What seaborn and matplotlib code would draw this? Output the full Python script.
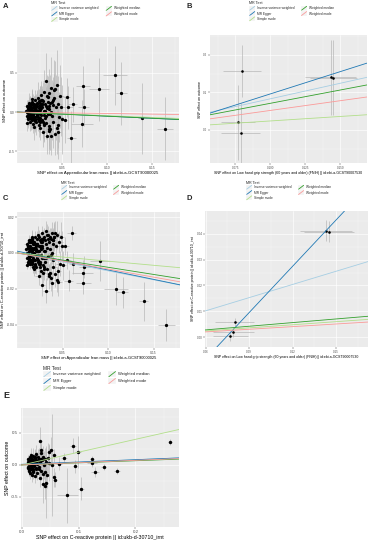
import numpy as np
import pandas as pd
import seaborn as sns
import matplotlib
matplotlib.use("Agg")
import matplotlib.pyplot as plt
from matplotlib.lines import Line2D
from matplotlib.patches import Rectangle
from matplotlib.legend_handler import HandlerBase
from matplotlib.ticker import AutoMinorLocator

# ---------------- data ----------------
methods = ["Inverse variance weighted", "MR Egger", "Simple mode",
           "Weighted median", "Weighted mode"]
method_colors = ["#a6cee3", "#1f78b4", "#b2df8a", "#33a02c", "#fb9a99"]

# exposure: Appendicular lean mass (panels A and C share SNPs)
lean_bx = [
    0.010, 0.011, 0.011, 0.012, 0.012, 0.012, 0.013, 0.013, 0.013, 0.014, 0.014, 0.014, 0.015, 0.015, 0.015, 0.016,
    0.016, 0.016, 0.017, 0.017, 0.017, 0.018, 0.018, 0.018, 0.019, 0.019, 0.019, 0.020, 0.020, 0.020, 0.021, 0.021,
    0.021, 0.022, 0.022, 0.023, 0.023, 0.023, 0.024, 0.024, 0.025, 0.025, 0.026, 0.026, 0.026, 0.027, 0.027, 0.028,
    0.028, 0.029, 0.029, 0.030, 0.030, 0.031, 0.031, 0.032, 0.032, 0.033, 0.033, 0.034, 0.034, 0.035, 0.035, 0.036,
    0.036, 0.037, 0.037, 0.038, 0.038, 0.039, 0.040, 0.040, 0.041, 0.042, 0.043, 0.044, 0.045, 0.046, 0.047, 0.048,
    0.011, 0.013, 0.015, 0.017, 0.019, 0.022, 0.024, 0.027, 0.030, 0.033, 0.036, 0.039, 0.042, 0.044, 0.049, 0.050,
    0.012, 0.014, 0.016, 0.018, 0.020, 0.021, 0.023, 0.025, 0.026, 0.028, 0.029, 0.031, 0.032, 0.034, 0.037, 0.040,
    0.013, 0.015, 0.017, 0.019, 0.020, 0.022, 0.024, 0.025, 0.027, 0.028, 0.030, 0.032, 0.035, 0.038, 0.041, 0.045,
    0.053, 0.055, 0.057, 0.060, 0.062, 0.072, 0.073, 0.074, 0.091, 0.109, 0.116, 0.139, 0.164,
    0.011, 0.012, 0.013, 0.014, 0.015, 0.016, 0.017, 0.018, 0.019, 0.020, 0.021, 0.022, 0.023, 0.024, 0.025, 0.026,
    0.012, 0.013, 0.014, 0.015, 0.016, 0.017, 0.018, 0.019, 0.020, 0.021, 0.022, 0.023, 0.024, 0.026, 0.028, 0.030]
lean_sex = [
    0.002, 0.002, 0.003, 0.002, 0.002, 0.003, 0.002, 0.002, 0.003, 0.002, 0.003, 0.002, 0.002, 0.003, 0.002, 0.003,
    0.002, 0.003, 0.002, 0.003, 0.002, 0.003, 0.002, 0.003, 0.003, 0.002, 0.003, 0.002, 0.003, 0.003, 0.002, 0.003,
    0.003, 0.002, 0.003, 0.003, 0.002, 0.003, 0.003, 0.004, 0.003, 0.002, 0.003, 0.003, 0.004, 0.003, 0.002, 0.003,
    0.003, 0.004, 0.003, 0.003, 0.004, 0.003, 0.004, 0.003, 0.003, 0.004, 0.003, 0.004, 0.003, 0.004, 0.003, 0.004,
    0.004, 0.003, 0.004, 0.003, 0.004, 0.004, 0.003, 0.004, 0.004, 0.003, 0.004, 0.004, 0.003, 0.004, 0.004, 0.004,
    0.002, 0.002, 0.003, 0.002, 0.003, 0.003, 0.002, 0.003, 0.003, 0.003, 0.004, 0.003, 0.004, 0.003, 0.004, 0.004,
    0.002, 0.002, 0.003, 0.002, 0.003, 0.002, 0.003, 0.003, 0.002, 0.003, 0.003, 0.003, 0.004, 0.003, 0.003, 0.004,
    0.002, 0.003, 0.002, 0.003, 0.002, 0.003, 0.003, 0.002, 0.003, 0.003, 0.003, 0.004, 0.003, 0.004, 0.003, 0.004,
    0.004, 0.004, 0.005, 0.005, 0.005, 0.012, 0.008, 0.006, 0.011, 0.013, 0.006, 0.005, 0.009,
    0.002, 0.002, 0.002, 0.003, 0.002, 0.002, 0.003, 0.002, 0.003, 0.002, 0.003, 0.003, 0.002, 0.003, 0.003, 0.003,
    0.002, 0.002, 0.003, 0.002, 0.002, 0.003, 0.002, 0.003, 0.002, 0.003, 0.003, 0.002, 0.003, 0.003, 0.003, 0.004]

# panel A outcome
a_by = [
    0.02, -0.05, 0.08, -0.01, 0.04, -0.09, 0.11, 0.00, -0.03, 0.06, -0.12, 0.03, -0.06, 0.09, 0.01, -0.08,
    0.05, -0.02, 0.13, -0.10, 0.02, 0.07, -0.04, -0.15, 0.10, 0.00, -0.07, 0.04, 0.15, -0.11, 0.06, -0.01,
    -0.13, 0.08, 0.01, -0.06, 0.18, -0.02, 0.05, -0.17, 0.12, -0.08, 0.03, -0.20, 0.09, 0.22, -0.04, 0.06,
    -0.10, 0.14, -0.25, 0.02, 0.26, -0.07, 0.11, 0.40, -0.14, 0.05, -0.30, 0.19, -0.03, 0.08, -0.18, 0.25,
    0.04, -0.22, 0.12, -0.31, 0.31, -0.05, 0.16, -0.12, 0.28, -0.28, 0.06, 0.35, -0.16, 0.10, -0.06, 0.20,
    -0.14, 0.12, -0.09, 0.17, -0.19, 0.10, -0.11, 0.15, -0.16, 0.21, -0.24, 0.13, 0.30, -0.20, 0.07, -0.09,
    0.07, -0.03, 0.01, 0.11, -0.06, 0.03, -0.09, 0.07, -0.01, 0.10, -0.12, 0.02, -0.05, 0.13, -0.02, 0.09,
    -0.06, 0.04, -0.08, 0.03, 0.09, -0.04, 0.02, -0.11, 0.05, 0.16, -0.15, 0.08, -0.21, 0.00, 0.18, -0.26,
    -0.10, 0.19, 0.06, -0.33, 0.10, -0.15, 0.34, 0.06, 0.29, 0.47, 0.24, -0.08, -0.21,
    0.00, 0.06, -0.04, 0.10, -0.07, 0.03, 0.12, -0.02, 0.05, -0.09, 0.08, -0.05, 0.01, 0.14, -0.12, 0.04,
    -0.08, 0.04, 0.09, -0.03, 0.00, 0.11, -0.06, 0.07, -0.10, 0.02, 0.12, -0.01, -0.08, 0.06, 0.10, -0.04]
a_se = [
    0.08, 0.10, 0.07, 0.12, 0.09, 0.11, 0.08, 0.13, 0.10, 0.09, 0.12, 0.08, 0.11, 0.10, 0.14, 0.09,
    0.12, 0.10, 0.15, 0.11, 0.13, 0.09, 0.16, 0.12, 0.10, 0.14, 0.11, 0.17, 0.13, 0.12, 0.15, 0.10,
    0.16, 0.13, 0.18, 0.12, 0.20, 0.14, 0.17, 0.15, 0.22, 0.13, 0.19, 0.16, 0.24, 0.18, 0.14, 0.21,
    0.17, 0.25, 0.19, 0.23, 0.28, 0.18, 0.26, 0.35, 0.20, 0.30, 0.24, 0.27, 0.22, 0.33, 0.25, 0.30,
    0.28, 0.26, 0.36, 0.24, 0.40, 0.31, 0.29, 0.34, 0.38, 0.27, 0.42, 0.45, 0.30, 0.36, 0.32, 0.40,
    0.10, 0.12, 0.14, 0.13, 0.16, 0.18, 0.15, 0.20, 0.22, 0.26, 0.30, 0.28, 0.35, 0.33, 0.38, 0.44,
    0.09, 0.11, 0.13, 0.12, 0.14, 0.16, 0.15, 0.18, 0.17, 0.19, 0.21, 0.20, 0.23, 0.25, 0.27, 0.30,
    0.10, 0.12, 0.11, 0.14, 0.13, 0.15, 0.17, 0.16, 0.19, 0.18, 0.22, 0.24, 0.26, 0.29, 0.31, 0.34,
    0.30, 0.25, 0.28, 0.35, 0.22, 0.30, 0.25, 0.24, 0.40, 0.38, 0.40, 0.45, 0.40,
    0.09, 0.10, 0.11, 0.10, 0.12, 0.11, 0.13, 0.12, 0.14, 0.13, 0.15, 0.14, 0.16, 0.15, 0.17, 0.18,
    0.10, 0.09, 0.12, 0.11, 0.13, 0.12, 0.14, 0.13, 0.15, 0.16, 0.14, 0.17, 0.18, 0.19, 0.20, 0.22]

# panel C outcome (C-reactive protein)
c_by = [
    0.002, -0.003, 0.005, 0.000, 0.003, -0.005, 0.007, 0.001, -0.002, 0.004, -0.006, 0.002, -0.004, 0.006, 0.001, -0.005,
    0.003, -0.001, 0.008, -0.006, 0.002, 0.005, -0.003, -0.008, 0.006, 0.000, -0.004, 0.003, 0.009, -0.007, 0.004, -0.001,
    -0.008, 0.005, 0.001, -0.004, 0.010, -0.002, 0.004, -0.013, 0.007, -0.005, 0.002, -0.010, 0.006, 0.011, -0.003, 0.004,
    -0.018, 0.008, -0.011, 0.001, 0.009, -0.005, 0.007, 0.012, -0.021, 0.003, -0.009, 0.010, -0.002, 0.006, -0.012, 0.009,
    0.002, -0.014, 0.008, -0.017, 0.011, -0.004, 0.007, -0.008, 0.009, -0.012, 0.004, 0.010, -0.010, 0.006, -0.006, 0.009,
    -0.007, 0.006, -0.005, 0.009, -0.009, 0.005, -0.006, 0.008, -0.008, 0.010, -0.011, 0.007, 0.011, -0.015, 0.004, -0.007,
    0.004, -0.002, 0.001, 0.006, -0.004, 0.002, -0.005, 0.004, -0.001, 0.006, -0.007, 0.001, -0.003, 0.008, -0.001, 0.005,
    -0.004, 0.002, -0.005, 0.002, 0.005, -0.002, 0.001, -0.006, 0.003, 0.008, -0.009, 0.005, -0.013, 0.000, 0.009, -0.016,
    0.004, -0.004, -0.0155, 0.011, -0.006, -0.011, -0.017, -0.008, -0.0044, -0.020, -0.022, -0.027, -0.040,
    0.000, 0.004, -0.003, 0.007, -0.005, 0.002, 0.008, -0.001, 0.003, -0.006, 0.005, -0.003, 0.001, 0.009, -0.008, 0.003,
    -0.006, 0.003, 0.006, -0.002, 0.000, 0.007, -0.004, 0.005, -0.007, 0.001, 0.008, -0.001, -0.005, 0.004, 0.007, -0.003]
c_se = [
    0.002, 0.003, 0.002, 0.003, 0.002, 0.003, 0.003, 0.002, 0.003, 0.002, 0.003, 0.002, 0.003, 0.003, 0.002, 0.003,
    0.003, 0.002, 0.004, 0.003, 0.003, 0.002, 0.004, 0.003, 0.003, 0.004, 0.003, 0.004, 0.003, 0.004, 0.003, 0.003,
    0.004, 0.003, 0.004, 0.003, 0.005, 0.004, 0.003, 0.005, 0.004, 0.004, 0.005, 0.004, 0.005, 0.004, 0.004, 0.005,
    0.006, 0.005, 0.006, 0.004, 0.005, 0.006, 0.005, 0.006, 0.007, 0.005, 0.006, 0.005, 0.006, 0.007, 0.006, 0.005,
    0.006, 0.007, 0.006, 0.007, 0.006, 0.005, 0.007, 0.006, 0.008, 0.007, 0.006, 0.008, 0.007, 0.006, 0.007, 0.008,
    0.002, 0.003, 0.003, 0.004, 0.004, 0.004, 0.005, 0.005, 0.005, 0.006, 0.006, 0.006, 0.007, 0.007, 0.008, 0.008,
    0.002, 0.003, 0.003, 0.003, 0.004, 0.003, 0.004, 0.004, 0.005, 0.004, 0.005, 0.005, 0.006, 0.005, 0.006, 0.007,
    0.003, 0.003, 0.004, 0.003, 0.004, 0.004, 0.004, 0.005, 0.005, 0.005, 0.006, 0.006, 0.007, 0.006, 0.007, 0.008,
    0.005, 0.005, 0.006, 0.004, 0.006, 0.007, 0.006, 0.006, 0.011, 0.009, 0.0085, 0.011, 0.009,
    0.002, 0.002, 0.003, 0.002, 0.003, 0.003, 0.003, 0.003, 0.004, 0.003, 0.004, 0.004, 0.004, 0.004, 0.005, 0.005,
    0.002, 0.003, 0.002, 0.003, 0.003, 0.003, 0.004, 0.003, 0.004, 0.004, 0.004, 0.005, 0.004, 0.005, 0.005, 0.006]

# exposure: Low hand grip strength (panels B and D share SNPs)
grip_bx = [0.077, 0.079, 0.080, 0.143, 0.145]
grip_sex = [0.012, 0.014, 0.0135, 0.018, 0.017]
b_by = [0.021, -0.008, 0.157, 0.141, 0.139]
b_se = [0.10, 0.08, 0.07, 0.10, 0.10]
d_by = [0.0004, 0.002, 0.006, 0.0412, 0.0408]
d_se = [0.002, 0.002, 0.0015, 0.004, 0.004]

# exposure: C-reactive protein (panel E)
crp_bx = [
    0.010, 0.011, 0.011, 0.012, 0.012, 0.013, 0.013, 0.014, 0.014, 0.015, 0.015, 0.016, 0.016, 0.017, 0.017, 0.018,
    0.018, 0.019, 0.019, 0.020, 0.020, 0.021, 0.021, 0.022, 0.022, 0.023, 0.024, 0.024, 0.025, 0.026, 0.027, 0.028,
    0.029, 0.030, 0.031, 0.032, 0.033, 0.034, 0.035, 0.036, 0.037, 0.038, 0.040, 0.041, 0.043, 0.044, 0.046, 0.048,
    0.011, 0.012, 0.013, 0.014, 0.015, 0.016, 0.017, 0.018, 0.019, 0.020, 0.021, 0.023, 0.025, 0.027, 0.030, 0.034,
    0.032, 0.034, 0.051, 0.048, 0.056, 0.074, 0.090, 0.099, 0.093, 0.104, 0.080, 0.123, 0.124, 0.128, 0.144, 0.168,
    0.261, 0.056, 0.058, 0.042, 0.037, 0.040, 0.065, 0.052]
crp_sex = [
    0.001, 0.002, 0.001, 0.002, 0.001, 0.002, 0.002, 0.001, 0.002, 0.002, 0.001, 0.002, 0.002, 0.002, 0.001, 0.002,
    0.002, 0.002, 0.001, 0.002, 0.002, 0.002, 0.002, 0.002, 0.002, 0.003, 0.002, 0.002, 0.002, 0.003, 0.002, 0.003,
    0.003, 0.002, 0.003, 0.003, 0.002, 0.003, 0.003, 0.003, 0.003, 0.003, 0.003, 0.004, 0.003, 0.003, 0.004, 0.004,
    0.001, 0.001, 0.002, 0.001, 0.002, 0.002, 0.001, 0.002, 0.002, 0.002, 0.002, 0.002, 0.003, 0.002, 0.003, 0.003,
    0.003, 0.003, 0.004, 0.004, 0.004, 0.006, 0.005, 0.005, 0.004, 0.005, 0.018, 0.004, 0.009, 0.007, 0.004, 0.005,
    0.004, 0.004, 0.004, 0.003, 0.003, 0.003, 0.005, 0.004]
e_by = [
    0.05, -0.03, 0.10, 0.00, -0.08, 0.07, 0.02, -0.12, 0.12, -0.05, 0.04, 0.15, -0.02, 0.08, -0.15, 0.01,
    0.09, -0.07, 0.03, 0.14, -0.10, 0.06, -0.01, 0.11, -0.18, 0.05, 0.17, -0.04, 0.08, -0.13, 0.02, 0.12,
    -0.06, 0.10, -0.20, 0.04, 0.19, -0.09, 0.07, -0.14, 0.13, 0.00, -0.11, 0.09, 0.05, -0.16, 0.11, 0.03,
    -0.04, 0.06, -0.09, 0.03, 0.11, -0.06, 0.04, -0.02, 0.08, -0.11, 0.01, 0.13, -0.07, 0.06, -0.03, 0.09,
    0.37, 0.23, 0.23, 0.20, 0.15, 0.11, 0.30, 0.20, -0.02, -0.37, -0.47, 0.09, 0.03, -0.11, -0.03, -0.09,
    0.36, -0.19, -0.23, -0.28, -0.30, -0.33, 0.02, 0.00]
e_se = [
    0.06, 0.08, 0.05, 0.07, 0.09, 0.06, 0.08, 0.10, 0.07, 0.09, 0.06, 0.11, 0.08, 0.07, 0.12, 0.09,
    0.08, 0.10, 0.07, 0.12, 0.09, 0.11, 0.08, 0.13, 0.10, 0.09, 0.14, 0.11, 0.12, 0.10, 0.15, 0.13,
    0.12, 0.16, 0.14, 0.18, 0.13, 0.15, 0.20, 0.17, 0.16, 0.22, 0.19, 0.18, 0.25, 0.20, 0.23, 0.28,
    0.05, 0.07, 0.06, 0.08, 0.07, 0.09, 0.08, 0.10, 0.09, 0.11, 0.10, 0.12, 0.13, 0.14, 0.15, 0.18,
    0.23, 0.15, 0.20, 0.12, 0.10, 0.08, 0.12, 0.25, 0.10, 0.18, 0.43, 0.05, 0.06, 0.08, 0.05, 0.05,
    0.05, 0.15, 0.12, 0.55, 0.30, 0.20, 0.10, 0.80]

# MR method estimates (slope) and intercepts per panel, in `methods` order
a_slopes = [-0.50, -0.55, -0.45, -0.52, -0.17]
a_icepts = [0.0, 0.004, 0.0, 0.0, 0.0]
b_slopes = [0.83, 1.19, 0.24, 0.71, 0.52]
b_icepts = [0.0, -0.023, 0.0, 0.0, 0.0]
c_slopes = [-0.100, -0.105, -0.046, -0.080, -0.090]
c_icepts = [0.0, 0.001, 0.0, 0.0, 0.0]
d_slopes = [0.17, 0.597, 0.040, 0.047, 0.034]
d_icepts = [0.0, -0.0442, 0.0, 0.0, 0.0]
e_slopes = [0.40, 0.36, 2.00, 0.33, 0.36]
e_icepts = [0.0, 0.01, 0.0, 0.0, 0.0]

# tick labels
a_xticks = ["0.05", "0.10", "0.15"]
a_yticks = ["-0.5", "0.0", "0.5"]
b_xticks = ["0.075", "0.100", "0.125", "0.150"]
b_yticks = ["0.0", "0.1", "0.2"]
c_yticks = ["-0.04", "-0.02", "0.00", "0.02"]
d_xticks = ["0.06", "0.09", "0.12", "0.15"]
d_yticks = ["0.00", "0.01", "0.02", "0.03", "0.04"]
e_xticks = ["0.0", "0.1", "0.2"]
e_yticks = ["-0.5", "0.0", "0.5"]

lab_lean = "SNP effect on Appendicular lean mass || id:ebi-a-GCST90000025"
lab_grip = "SNP effect on Low hand grip strength (60 years and older) (FNIH) || id:ebi-a-GCST90007530"
lab_crp = "SNP effect on C-reactive protein || id:ukb-d-30710_irnt"
lab_out = "SNP effect on outcome"

# ---------------- drawing ----------------
sns.set_theme(style="white")
plt.rcParams["font.family"] = ["Liberation Sans", "DejaVu Sans"]
plt.rcParams["axes.unicode_minus"] = False

W, H = 370, 541
fig = plt.figure(figsize=(W / 100, H / 100), dpi=100)


def px_rect(l, t, r, b):
    return [l / W, 1 - b / H, (r - l) / W, (b - t) / H]


class DiagKey(HandlerBase):
    def create_artists(self, legend, orig, xd, yd, w, h, fs, trans):
        x0, y0 = -xd, -yd
        bg = Rectangle((x0, y0), w, h, facecolor="#F2F2F2", edgecolor="white",
                       lw=0.3, transform=trans)
        ln = Line2D([x0 + 0.1 * w, x0 + 0.9 * w], [y0 + 0.1 * h, y0 + 0.9 * h],
                    color=orig.get_color(), lw=orig.get_linewidth(), transform=trans)
        return [bg, ln]


def panel(rect, bx, by, sex, sey, slopes, icepts, xlim, ylim, xlabs, ylabs,
          xlabel, ylabel, fs_tick, fs_lab, s_pt=5.5):
    ax = fig.add_axes(px_rect(*rect))
    ax.set_facecolor("#EBEBEB")
    for sp in ax.spines.values():
        sp.set_visible(False)
    df = pd.DataFrame({"bx": bx, "by": by, "sex": sex, "sey": sey})
    ax.errorbar(df.bx, df.by, yerr=df.sey, fmt="none", ecolor="#B8B8B8",
                elinewidth=0.5, zorder=1)
    ax.errorbar(df.bx, df.by, xerr=df.sex, fmt="none", ecolor="#B8B8B8",
                elinewidth=0.5, zorder=1)
    sns.scatterplot(data=df, x="bx", y="by", ax=ax, color="black", s=s_pt,
                    linewidth=0, zorder=3, legend=False)
    for c, b, a in zip(method_colors, slopes, icepts):
        ax.axline((0, a), slope=b, color=c, lw=0.6, zorder=4)
    ax.set_xlim(*xlim)
    ax.set_ylim(*ylim)
    ax.set_xticks([float(t) for t in xlabs])
    ax.set_xticklabels(xlabs)
    ax.set_yticks([float(t) for t in ylabs])
    ax.set_yticklabels(ylabs)
    ax.xaxis.set_minor_locator(AutoMinorLocator(2))
    ax.yaxis.set_minor_locator(AutoMinorLocator(2))
    ax.set_axisbelow(True)
    ax.grid(which="major", color="white", lw=0.45)
    ax.grid(which="minor", color="white", lw=0.2)
    ax.tick_params(which="major", length=1.1, width=0.3, color="#333333",
                   labelsize=fs_tick, labelcolor="#4D4D4D", pad=0.8,
                   bottom=True, left=True)
    ax.tick_params(which="minor", length=0)
    ax.set_xlabel(xlabel, fontsize=fs_lab, labelpad=0.8, color="black")
    ax.set_ylabel(ylabel, fontsize=fs_lab, labelpad=0.8, color="black")
    return ax


def legend(ax, x, y, fs, fs_title, colsp):
    handles = [Line2D([], [], color=c, lw=0.6) for c in method_colors]
    leg = ax.legend(handles, methods, title="MR Test", loc="upper left",
                    bbox_to_anchor=(x / W, 1 - y / H), bbox_transform=fig.transFigure,
                    ncol=2, frameon=False, fontsize=fs, title_fontsize=fs_title,
                    handler_map={Line2D: DiagKey()}, handlelength=2.0,
                    handleheight=2.0, handletextpad=0.5, columnspacing=colsp,
                    labelspacing=0.1, borderpad=0, borderaxespad=0,
                    alignment="left")
    return leg


axA = panel((17, 37, 179, 163), lean_bx, a_by, lean_sex, a_se, a_slopes, a_icepts,
            (0.0, 0.18), (-0.65, 0.96), a_xticks, a_yticks, lab_lean, lab_out, 2.4, 3.1)
legend(axA, 51, 1.5, 2.4, 2.8, 2.0)

axB = panel((210, 35, 367, 163), grip_bx, b_by, grip_sex, b_se, b_slopes, b_icepts,
            (0.057, 0.169), (-0.088, 0.253), b_xticks, b_yticks, lab_grip, lab_out, 2.2, 2.6,
            s_pt=3.5)
legend(axB, 249, 1.5, 2.3, 2.7, 2.0)

axC = panel((17, 212, 180, 348), lean_bx, c_by, lean_sex, c_se, c_slopes, c_icepts,
            (0.0, 0.179), (-0.053, 0.0228), a_xticks, c_yticks, lab_lean, lab_crp, 2.4, 2.9)
legend(axC, 61, 180.5, 2.3, 2.7, 2.0)

axD = panel((205, 211, 368, 347), grip_bx, d_by, grip_sex, d_se, d_slopes, d_icepts,
            (0.0595, 0.172), (-0.0038, 0.0488), d_xticks, d_yticks, lab_grip, lab_crp, 2.2, 2.5,
            s_pt=3.5)
legend(axD, 246, 180.5, 2.3, 2.7, 2.0)

axE = panel((21, 408, 179, 527), crp_bx, e_by, crp_sex, e_se, e_slopes, e_icepts,
            (-0.002, 0.277), (-0.97, 0.89), e_xticks, e_yticks, lab_crp, lab_out, 3.2, 3.8,
            s_pt=6)
legend(axE, 43, 365.5, 3.0, 3.5, 1.7)

for letter, x, y, fs in [("A", 3, 6, 5.5), ("B", 187, 6, 5.5), ("C", 3, 198, 5.5),
                         ("D", 187, 198, 5.5), ("E", 3, 395, 6.5)]:
    fig.text(x / W, 1 - y / H, letter, fontsize=fs, fontweight="bold",
             ha="left", va="center")

fig.savefig("out.png", dpi=100)
